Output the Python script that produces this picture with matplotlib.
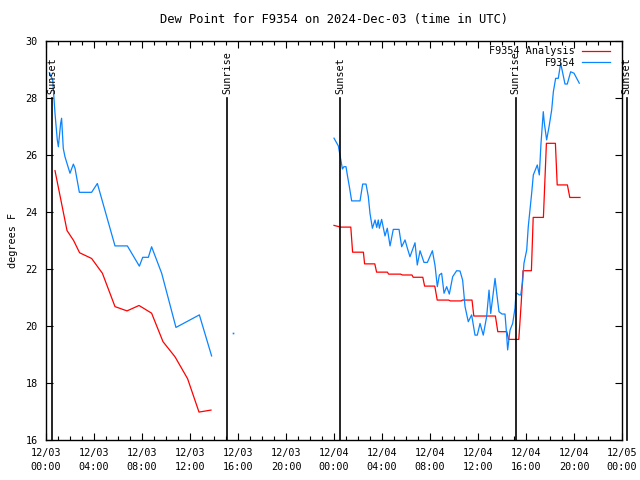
"""Dew point chart for F9354 -> out.png"""
from datetime import datetime, timedelta
import matplotlib
matplotlib.use("Agg")
import matplotlib.pyplot as plt
import matplotlib.dates as mdates

plt.rcParams["font.family"] = ["DejaVu Sans Mono"]
plt.rcParams["font.size"] = 7.3

BASE = datetime(2024, 12, 3)
RED, BLUE = "#ff0000", "#0a84ff"

# hours since 12/03 00:00 UTC, degrees F
ana1_h = [0.75, 1.75, 2.3, 2.8, 3.8, 4.7, 5.75, 6.75, 7.75, 8.8, 9.75, 10.75, 11.8, 12.75, 13.75]
ana1_v = [25.45, 23.35, 23.0, 22.57, 22.37, 21.85, 20.68, 20.53, 20.72, 20.45, 19.45, 18.92, 18.15, 16.98, 17.05]

ana2_h = [24.0, 24.55, 25.4, 25.55, 26.45, 26.55, 27.4, 27.55, 28.45, 28.55, 29.55, 29.7, 30.5, 30.6,
          31.4, 31.55, 32.4, 32.6, 33.55, 33.7, 34.6, 34.7, 35.5, 35.65, 37.45, 37.65, 38.4, 38.55,
          39.4, 39.6, 39.75, 40.45, 40.6, 41.45, 41.7, 42.45, 42.6, 43.45, 43.65, 44.5]
ana2_v = [23.53, 23.47, 23.47, 22.59, 22.59, 22.18, 22.18, 21.89, 21.89, 21.82, 21.82, 21.79, 21.79, 21.71,
          21.71, 21.4, 21.4, 20.91, 20.91, 20.88, 20.88, 20.91, 20.91, 20.35, 20.35, 19.8, 19.8, 19.53,
          19.53, 20.8, 21.94, 21.94, 23.81, 23.81, 26.41, 26.41, 24.95, 24.95, 24.51, 24.51]

obs1_h = [0.28, 0.56, 0.75, 0.94, 1.03, 1.22, 1.3, 1.44, 1.58, 2.0, 2.28, 2.42, 2.78, 3.8, 4.28,
          5.75, 6.78, 7.78, 8.06, 8.53, 8.8, 9.64, 10.83, 11.72, 12.78, 13.8]
obs1_v = [28.89, 28.63, 27.46, 26.53, 26.29, 27.11, 27.29, 26.23, 25.94, 25.36, 25.68, 25.53, 24.69, 24.69, 25.0,
          22.81, 22.81, 22.1, 22.41, 22.41, 22.78, 21.85, 19.95, 20.15, 20.39, 18.95]

obs_dot_h = [15.6]
obs_dot_v = [19.74]

obs2_h = [24.0, 24.36, 24.56, 24.7, 24.83, 25.0, 25.11, 25.28, 25.47, 26.17, 26.39, 26.67, 26.86, 27.0, 27.2,
          27.42, 27.56, 27.69, 27.78, 27.97, 28.25, 28.44, 28.67, 28.94, 29.42, 29.64, 29.92, 30.1, 30.33,
          30.75, 30.94, 31.17, 31.5, 31.78, 32.2, 32.42, 32.61, 32.78, 32.97, 33.17, 33.39, 33.61, 33.89,
          34.22, 34.5, 34.72, 34.92, 35.19, 35.47, 35.75, 35.94, 36.17, 36.44, 36.72, 36.92, 37.06, 37.42,
          37.56, 37.75, 38.0, 38.25, 38.39, 38.47, 38.67, 38.89, 39.08, 39.17, 39.44, 39.56, 39.72, 39.83,
          40.06, 40.19, 40.47, 40.61, 40.94, 41.11, 41.25, 41.44, 41.53, 41.72, 41.92, 42.14, 42.28, 42.47,
          42.69, 42.89, 43.25, 43.44, 43.72, 44.0, 44.44]
obs2_v = [26.59, 26.32, 25.85, 25.51, 25.59, 25.59, 25.3, 24.89, 24.39, 24.39, 24.98, 24.98, 24.54, 23.95, 23.43,
          23.72, 23.46, 23.72, 23.43, 23.74, 23.16, 23.43, 22.81, 23.39, 23.39, 22.78, 23.02, 22.75, 22.43,
          22.92, 22.14, 22.64, 22.23, 22.23, 22.64, 22.12, 21.38, 21.79, 21.85, 21.15, 21.38, 21.12, 21.73,
          21.94, 21.93, 21.61, 20.68, 20.15, 20.39, 19.68, 19.68, 20.09, 19.68, 20.33, 21.26, 20.44, 21.67,
          21.15, 20.5, 20.42, 20.42, 19.68, 19.16, 19.86, 20.09, 20.62, 21.17, 21.09, 21.09, 21.56, 22.2,
          22.67, 23.49, 24.65, 25.3, 25.65, 25.3, 26.41, 27.52, 27.11, 26.53, 26.99, 27.58, 28.22, 28.69,
          28.69, 29.22, 28.49, 28.49, 28.92, 28.87, 28.52]

sun_h = [0.5, 15.1, 24.5, 39.14, 48.4]
sun_lbl = ["Sunset", "Sunrise", "Sunset", "Sunrise", "Sunset"]


def t(hours):
    return [BASE + timedelta(hours=h) for h in hours]


fig = plt.figure(figsize=(6.4, 4.8), dpi=100)
ax = fig.add_axes([46 / 640, 40 / 480, 576 / 640, 399 / 480])

ax.plot(t(ana1_h), ana1_v, color=RED, lw=0.9, label="F9354 Analysis")
ax.plot(t(ana2_h), ana2_v, color=RED, lw=0.9)
ax.plot(t(obs1_h), obs1_v, color=BLUE, lw=0.9, label="F9354")
ax.plot(t(obs2_h), obs2_v, color=BLUE, lw=0.9)
ax.plot(t(obs_dot_h), obs_dot_v, color=BLUE, ls="none", marker="s", ms=1.2, mew=0)

for h, lbl in zip(sun_h, sun_lbl):
    x = BASE + timedelta(hours=h)
    ax.plot([x, x], [16, 28.0], color="black", lw=1.2, clip_on=False)
    ax.text(x, 28.15, lbl, rotation=90, ha="center", va="bottom", clip_on=False)

ax.set_xlim(BASE, BASE + timedelta(hours=48))
ax.set_ylim(16, 30)
ax.set_yticks(range(16, 31, 2))
ax.xaxis.set_major_locator(mdates.HourLocator(byhour=[0, 4, 8, 12, 16, 20]))
ax.xaxis.set_minor_locator(mdates.HourLocator())
ax.xaxis.set_major_formatter(mdates.DateFormatter("%m/%d\n%H:%M"))
ax.tick_params(which="both", direction="in", top=True, right=True, width=0.8)
ax.tick_params(which="major", length=5, pad=6)
ax.tick_params(which="minor", length=3)
for lab in ax.get_xticklabels():
    lab.set_linespacing(1.5)
for s in ax.spines.values():
    s.set_linewidth(1.0)

ax.set_ylabel("degrees F", labelpad=5)
ax.set_title("Dew Point for F9354 on 2024-Dec-03 (time in UTC)", pad=13)
ax.legend(loc="upper right", bbox_to_anchor=(0.988, 1.0), frameon=False, markerfirst=False,
          handlelength=2.75, borderaxespad=0.1, labelspacing=0.15, handletextpad=0.7)

fig.savefig("out.png")
